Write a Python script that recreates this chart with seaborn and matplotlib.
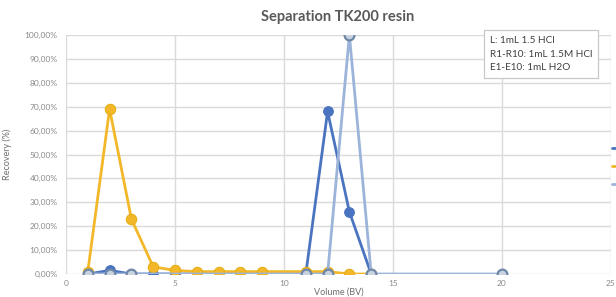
import matplotlib
matplotlib.use("Agg")
import matplotlib.pyplot as plt
import seaborn as sns
import pandas as pd
from matplotlib.ticker import FuncFormatter

sns.set_theme(style="whitegrid")
plt.rcParams['font.family'] = ['Lato', 'DejaVu Sans']

# Data (recovery fraction vs volume in BV)
x_dark = [1, 2, 3, 4, 5, 11, 12, 13, 14]
y_dark = [0.0, 0.015, 0.0, 0.0, 0.0, 0.0, 0.68, 0.26, 0.0]

x_yellow = [1, 2, 3, 4, 5, 6, 7, 8, 9, 11, 12, 13, 14]
y_yellow = [0.01, 0.69, 0.23, 0.03, 0.015, 0.01, 0.01, 0.01, 0.01, 0.01, 0.01, 0.0, 0.0]

x_light = [1, 2, 3, 11, 12, 13, 14, 20]
y_light = [0.0, 0.0, 0.0, 0.0, 0.0, 1.0, 0.0, 0.0]

title = "Separation TK200 resin"
note = "L: 1mL 1.5 HCl\nR1-R10: 1mL 1.5M HCl\nE1-E10: 1mL H2O"

c_dark = "#4A74C0"
c_yellow = "#F2B82A"
c_light = "#9CB4DA"

fig = plt.figure(figsize=(6.16, 2.97), dpi=100)
ax = fig.add_axes([66/616, 1-274/297, (611-66)/616, (274-35)/297])

df_d = pd.DataFrame({"x": x_dark, "y": y_dark})
df_y = pd.DataFrame({"x": x_yellow, "y": y_yellow})
df_l = pd.DataFrame({"x": x_light, "y": y_light})

sns.lineplot(data=df_d, x="x", y="y", ax=ax, color=c_dark, lw=2.0, marker="o",
             markersize=7, markerfacecolor=c_dark, markeredgecolor=c_dark,
             zorder=3)
sns.lineplot(data=df_y, x="x", y="y", ax=ax, color=c_yellow, lw=2.0, marker="o",
             markersize=7.5, markerfacecolor=c_yellow, markeredgecolor="#E6AE10",
             zorder=4)
sns.lineplot(data=df_l, x="x", y="y", ax=ax, color=c_light, lw=2.0, marker="o",
             markersize=7, markerfacecolor="#C9D3E0", markeredgecolor="#6F87A8",
             markeredgewidth=1.6, zorder=5)

ax.set_xlim(0, 25)
ax.set_ylim(0, 1.0)
ax.set_xticks([0, 5, 10, 15, 20, 25])
ax.set_yticks([i/10 for i in range(11)])
ax.yaxis.set_major_formatter(FuncFormatter(lambda v, p: f"{v*100:.2f}%".replace(".", ",")))
ax.tick_params(axis="y", labelsize=6, colors="#8a8a8a", length=0, pad=6)
ax.tick_params(axis="x", labelsize=6, colors="#8a8a8a", length=0, pad=4)
ax.grid(True, color="#DADADA", lw=1.0)
for s in ax.spines.values():
    s.set_visible(False)
ax.set_facecolor("white")

ax.set_xlabel("Volume (BV)", fontsize=6.5, color="#6f6f6f", labelpad=0.5)
ax.set_ylabel("Recovery (%)", fontsize=6.5, color="#6f6f6f", labelpad=9)
fig.text(0.548, 1-17/297, title, ha="center", va="center", fontsize=10.5,
         fontweight="bold", color="#595959")

fig.text(490/616, 1-54/297, note, ha="left", va="center", fontsize=7.2,
         color="#404040", linespacing=1.65,
         bbox=dict(boxstyle="square,pad=0.6", fc="white", ec="#C8C8C8", lw=0.9))

handles = ax.get_lines()[:3]
leg = ax.legend([handles[0], handles[1], handles[2]], ["", "", ""],
                loc="upper left", bbox_to_anchor=(609/616, 1-142/297),
                bbox_transform=fig.transFigure, frameon=False, fontsize=6,
                handlelength=1.5, borderaxespad=0, labelspacing=1.3,
                markerscale=0.0)

fig.savefig("out.png", dpi=100)
